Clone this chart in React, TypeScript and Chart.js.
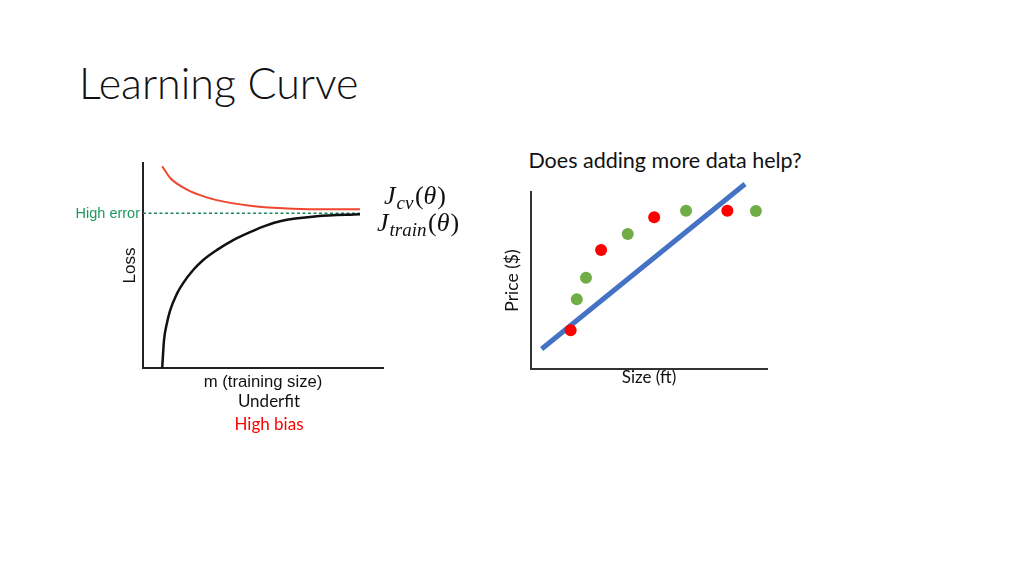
import React, { useEffect, useRef } from "react";
import { Chart, registerables } from "chart.js";

Chart.register(...registerables);

// ---- Left chart: learning curve (normalized units 0..10) ----
const TRAIN_M = [0.8, 0.875, 0.99, 1.125, 1.4, 1.68, 2.1, 2.51, 3.07, 3.76, 4.46, 5.15, 5.71, 7.24, 9.04];
const TRAIN_LOSS = [0, 1.35, 2.15, 2.79, 3.59, 4.15, 4.79, 5.27, 5.75, 6.24, 6.63, 6.96, 7.16, 7.4, 7.5];
const CV_M = [0.8, 1.125, 1.68, 2.375, 3.07, 4.46, 5.85, 7.24, 9.04];
const CV_LOSS = [9.84, 9.28, 8.8, 8.43, 8.19, 7.92, 7.79, 7.74, 7.74];
const HIGH_ERROR = 7.55;
const HIGH_ERROR_M = [0, 9.04];

// ---- Right chart: price vs size ----
const GREEN_SIZE = [1.94, 2.33, 4.1, 6.57, 9.53];
const GREEN_PRICE = [3.94, 5.16, 7.63, 8.94, 8.93];
const RED_SIZE = [1.68, 2.97, 5.22, 8.32];
const RED_PRICE = [2.19, 6.72, 8.57, 8.94];
const FIT_SIZE = [0.45, 9.07];
const FIT_PRICE = [1.13, 10.45];

const pts = (xs: number[], ys: number[]) => xs.map((x, i) => ({ x, y: ys[i] }));

function drawMath(ctx: CanvasRenderingContext2D, x: number, base: number, sub: string) {
  ctx.save();
  ctx.fillStyle = "#111";
  ctx.textBaseline = "alphabetic";
  ctx.textAlign = "left";
  ctx.font = 'italic 26px "Liberation Serif"';
  ctx.fillText("J", x, base);
  let cx = x + ctx.measureText("J").width + 1;
  ctx.font = 'italic 19px "Liberation Serif"';
  ctx.fillText(sub, cx, base + 5);
  cx += ctx.measureText(sub).width + 1.5;
  ctx.font = '26px "Liberation Serif"';
  ctx.fillText("(", cx, base);
  cx += ctx.measureText("(").width;
  ctx.font = 'italic 26px "Liberation Serif"';
  ctx.fillText("θ", cx, base);
  cx += ctx.measureText("θ").width + 1;
  ctx.font = '26px "Liberation Serif"';
  ctx.fillText(")", cx, base);
  ctx.restore();
}

const leftLabels = {
  id: "leftLabels",
  afterDatasetsDraw(chart: any) {
    const { ctx, chartArea, scales } = chart;
    const y = scales.y.getPixelForValue(HIGH_ERROR);
    ctx.save();
    ctx.fillStyle = "#1f9a5e";
    ctx.font = '14.5px "Liberation Sans"';
    ctx.textAlign = "right";
    ctx.textBaseline = "middle";
    ctx.fillText("High error", chartArea.left - 3, y + 1);
    ctx.restore();
    drawMath(ctx, chartArea.right + 1, y - 9, "cv");
    drawMath(ctx, chartArea.right - 6, y + 18, "train");
  },
};

function LeftChart() {
  const ref = useRef<HTMLCanvasElement>(null);
  useEffect(() => {
    const chart = new Chart(ref.current!, {
      type: "line",
      data: {
        datasets: [
          {
            label: "J_cv",
            data: pts(CV_M, CV_LOSS),
            borderColor: "#f2452d",
            borderWidth: 2,
            pointRadius: 0,
            cubicInterpolationMode: "monotone",
            fill: false,
          },
          {
            label: "J_train",
            data: pts(TRAIN_M, TRAIN_LOSS),
            borderColor: "#111111",
            borderWidth: 2.5,
            pointRadius: 0,
            cubicInterpolationMode: "monotone",
            fill: false,
          },
          {
            label: "High error",
            data: pts(HIGH_ERROR_M, HIGH_ERROR_M.map(() => HIGH_ERROR)),
            borderColor: "#18875a",
            borderWidth: 1.6,
            borderDash: [3, 2.5],
            pointRadius: 0,
            fill: false,
          },
        ],
      },
      options: {
        animation: false,
        responsive: false,
        layout: { padding: { left: 0, right: 97, top: 23, bottom: 0 } },
        plugins: { legend: { display: false }, tooltip: { enabled: false } },
        scales: {
          x: {
            type: "linear",
            min: 0,
            max: 10,
            grid: { display: false, drawTicks: false },
            ticks: { display: false },
            border: { display: true, color: "#222", width: 2 },
            title: {
              display: true,
              text: "m (training size)",
              color: "#111",
              font: { family: "Liberation Sans", size: 16.7 },
              padding: { top: 0, bottom: 18 },
            },
            afterFit: (s: any) => {
              s.height = 42;
            },
          },
          y: {
            type: "linear",
            min: 0,
            max: 10,
            grid: { display: false, drawTicks: false },
            ticks: { display: false },
            border: { display: true, color: "#222", width: 2 },
            title: {
              display: true,
              text: "Loss",
              color: "#111",
              font: { family: "Liberation Sans", size: 17 },
              padding: { top: 60, bottom: 0 },
            },
            afterFit: (s: any) => {
              s.width = 83;
            },
          },
        },
      },
      plugins: [leftLabels],
    } as any);
    return () => chart.destroy();
  }, []);
  return (
    <canvas
      ref={ref}
      width={420}
      height={270}
      style={{ position: "absolute", left: 60, top: 140, width: 420, height: 270 }}
    />
  );
}

function RightChart() {
  const ref = useRef<HTMLCanvasElement>(null);
  useEffect(() => {
    const chart = new Chart(ref.current!, {
      type: "scatter",
      data: {
        datasets: [
          {
            label: "New data",
            data: pts(GREEN_SIZE, GREEN_PRICE),
            backgroundColor: "#70ad47",
            borderWidth: 0,
            pointRadius: 6,
          },
          {
            label: "Training data",
            data: pts(RED_SIZE, RED_PRICE),
            backgroundColor: "#ff0000",
            borderWidth: 0,
            pointRadius: 6,
          },
          {
            type: "line",
            label: "Fit",
            data: pts(FIT_SIZE, FIT_PRICE),
            borderColor: "#4472c4",
            borderWidth: 5,
            pointRadius: 0,
            clip: false,
            fill: false,
          },
        ],
      },
      options: {
        animation: false,
        responsive: false,
        layout: { padding: { left: 0, right: 43, top: 52, bottom: 0 } },
        plugins: {
          legend: { display: false },
          tooltip: { enabled: false },
        },
        scales: {
          x: {
            type: "linear",
            min: 0,
            max: 10,
            grid: { display: false, drawTicks: false },
            ticks: { display: false },
            border: { display: true, color: "#333", width: 2 },
            title: {
              display: true,
              text: "Size (ft)",
              color: "#111",
              font: { family: "Lato", size: 17 },
              padding: { top: 0, bottom: 12 },
            },
            afterFit: (s: any) => {
              s.height = 31;
            },
          },
          y: {
            type: "linear",
            min: 0,
            max: 10,
            grid: { display: false, drawTicks: false },
            ticks: { display: false },
            border: { display: true, color: "#333", width: 2 },
            title: {
              display: true,
              text: "Price ($)",
              color: "#111",
              font: { family: "Lato", size: 17.5 },
              padding: { top: 12, bottom: 0 },
            },
            afterFit: (s: any) => {
              s.width = 41;
            },
          },
        },
      },
    } as any);
    return () => chart.destroy();
  }, []);
  return (
    <canvas
      ref={ref}
      width={320}
      height={260}
      style={{ position: "absolute", left: 490, top: 140, width: 320, height: 260 }}
    />
  );
}

export default function App() {
  return (
    <div style={{ position: "relative", width: 1024, height: 576, margin: -8, background: "#fff", overflow: "hidden" }}>
      <div
        style={{
          position: "absolute",
          left: 79,
          top: 60,
          fontFamily: "Lato",
          fontWeight: 300,
          fontSize: 43,
          lineHeight: "46px",
          color: "#111",
          whiteSpace: "nowrap",
        }}
      >
        Learning Curve
      </div>
      <div
        style={{
          position: "absolute",
          left: 515,
          width: 300,
          top: 147,
          textAlign: "center",
          fontFamily: "Lato",
          fontSize: 21.5,
          lineHeight: "26px",
          color: "#111",
          whiteSpace: "nowrap",
        }}
      >
        Does adding more data help?
      </div>
      <LeftChart />
      <RightChart />
      <div
        style={{
          position: "absolute",
          left: 169,
          width: 200,
          top: 390,
          textAlign: "center",
          fontFamily: "Lato",
          fontSize: 17,
          lineHeight: "22px",
          color: "#111",
        }}
      >
        Underfit
      </div>
      <div
        style={{
          position: "absolute",
          left: 169,
          width: 200,
          top: 413,
          textAlign: "center",
          fontFamily: "Lato",
          fontSize: 17,
          lineHeight: "22px",
          color: "#ff0000",
        }}
      >
        High bias
      </div>
    </div>
  );
}
